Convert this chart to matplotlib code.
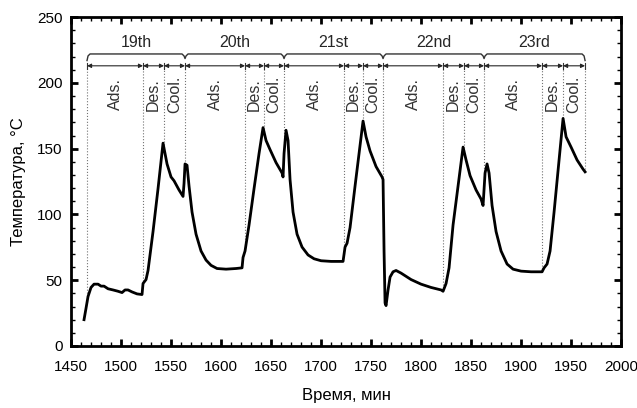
import numpy as np
import matplotlib.pyplot as plt
from matplotlib.ticker import MultipleLocator

plt.rcParams['font.family'] = ['Liberation Sans', 'DejaVu Sans']

# temperature trace
time_min = [1463, 1465, 1467, 1470, 1473, 1477, 1480, 1483, 1487, 1492, 1497, 1501,
            1504, 1507, 1511, 1516, 1521, 1522, 1525, 1527, 1532, 1537, 1542, 1546,
            1550, 1553, 1558, 1562, 1563, 1564, 1566, 1568, 1571, 1575, 1580, 1585,
            1590, 1596, 1605, 1615, 1621, 1622, 1624, 1628, 1633, 1638, 1642, 1645,
            1649, 1655, 1661, 1662, 1663, 1665, 1667, 1669, 1672, 1676, 1681, 1687,
            1693, 1700, 1710, 1722, 1724, 1726, 1729, 1734, 1738, 1742, 1745, 1749,
            1755, 1761, 1762, 1763, 1764, 1765, 1767, 1769, 1772, 1775, 1780, 1790,
            1800, 1810, 1820, 1822, 1825, 1828, 1832, 1837, 1842, 1845, 1849, 1855,
            1860, 1862, 1864, 1866, 1868, 1871, 1875, 1880, 1886, 1892, 1900, 1910,
            1921, 1923, 1926, 1929, 1933, 1938, 1942, 1945, 1950, 1956, 1962, 1964]
temp_c = [20, 28.7, 37.6, 44.5, 47, 47, 45.5, 45.5, 43.5, 42.6, 41.6, 40.6,
          42.6, 42.6, 41.1, 39.6, 39.1, 47.5, 50.5, 57.4, 87, 119.6, 154.2, 138.4,
          128.5, 125.6, 118.6, 113.7, 123.6, 138.4, 137.4, 121.6, 101.8, 85, 72.2, 65.3,
          61.3, 58.9, 58.4, 58.9, 59.4, 67.3, 72.2, 92, 119.6, 146.3, 166, 156.2,
          149.3, 139.4, 131.5, 128.5, 146.3, 164, 156.2, 126.5, 101.8, 85, 75.2, 69.2,
          66.3, 64.8, 64.3, 64.3, 75.2, 78.1, 90, 121.6, 146.3, 171, 159, 148.3,
          136.4, 128.5, 126.5, 72.2, 32.7, 30.7, 42.6, 52.4, 56.4, 57.4, 55.4, 50.5,
          47, 44.5, 42.6, 41.6, 47.5, 59.4, 92, 121.6, 151.2, 141.4, 129.5, 118.6,
          111.7, 106.8, 131.5, 138.4, 131.5, 106.8, 87, 72.2, 62.3, 58.4, 56.9, 56.4,
          56.4, 59.4, 62.3, 72.2, 101.8, 141.4, 173, 159, 151.2, 141.4, 134.4, 132.4]

# phase boundaries (minutes)
bounds = [1466, 1522, 1543, 1564, 1624, 1643, 1663, 1723, 1742, 1762,
          1822, 1843, 1863, 1921, 1942, 1964]
cycle_bounds = [1466, 1564, 1663, 1762, 1863, 1964]
cycle_labels = ['19th', '20th', '21st', '22nd', '23rd']
phase_labels = ['Ads.', 'Des.', 'Cool.'] * 5

fig = plt.figure(figsize=(6.37, 4.08), dpi=100)
ax = fig.add_axes([0.1115, 0.152, 0.8635, 0.806])

ax.plot(time_min, temp_c, color='black', lw=2.0, solid_joinstyle='round', zorder=5)

y_arrow = 213
y_brace = 222
y_cyc = 230.5
y_phase = 191.5

# dotted guide lines down to the curve
for b in bounds:
    yb = np.interp(b, time_min, temp_c)
    ax.plot([b, b], [yb, y_arrow], ls=':', color='0.45', lw=0.8, zorder=2)
    ax.plot([b, b], [y_arrow - 2.2, y_arrow + 2.2], color='0.2', lw=0.8)

# double arrows for each phase
for b0, b1, lab in zip(bounds[:-1], bounds[1:], phase_labels):
    ax.annotate('', xy=(b1, y_arrow), xytext=(b0, y_arrow),
                arrowprops=dict(arrowstyle='<|-|>', color='0.15', lw=0.8,
                                mutation_scale=6, shrinkA=0, shrinkB=0))
    ax.text((b0 + b1) / 2, y_phase, lab, rotation=90, ha='center', va='center',
            fontsize=11.5, color='0.2')

# brace over each cycle
bx = [cycle_bounds[0], cycle_bounds[0] + 1, cycle_bounds[0] + 3]
by = [217, 220.5, y_brace]
for c in cycle_bounds[1:-1]:
    bx += [c - 3, c - 1, c, c + 1, c + 3]
    by += [y_brace, 220.5, 218.5, 220.5, y_brace]
bx += [cycle_bounds[-1] - 3, cycle_bounds[-1] - 1, cycle_bounds[-1]]
by += [y_brace, 220.5, 217]
ax.plot(bx, by, color='0.2', lw=1.0)

for c0, c1, lab in zip(cycle_bounds[:-1], cycle_bounds[1:], cycle_labels):
    ax.text((c0 + c1) / 2, y_cyc, lab, ha='center', va='center', fontsize=11.5,
            color='0.15')

ax.set_xlim(1450, 2000)
ax.set_ylim(0, 250)
ax.xaxis.set_major_locator(MultipleLocator(50))
ax.xaxis.set_minor_locator(MultipleLocator(10))
ax.yaxis.set_major_locator(MultipleLocator(50))
ax.yaxis.set_minor_locator(MultipleLocator(10))
ax.tick_params(which='both', direction='in', top=True, right=True, labelsize=11)
ax.tick_params(which='major', length=5, width=2)
ax.tick_params(which='minor', length=3, width=1)
ax.tick_params(axis='x', which='major', pad=10)
ax.tick_params(axis='y', which='major', pad=6)
for s in ax.spines.values():
    s.set_linewidth(2)

ax.set_xlabel('Время, мин', fontsize=12, labelpad=10)
ax.set_ylabel('Температура, °C', fontsize=12, labelpad=8)

fig.savefig('out.png', dpi=100)
